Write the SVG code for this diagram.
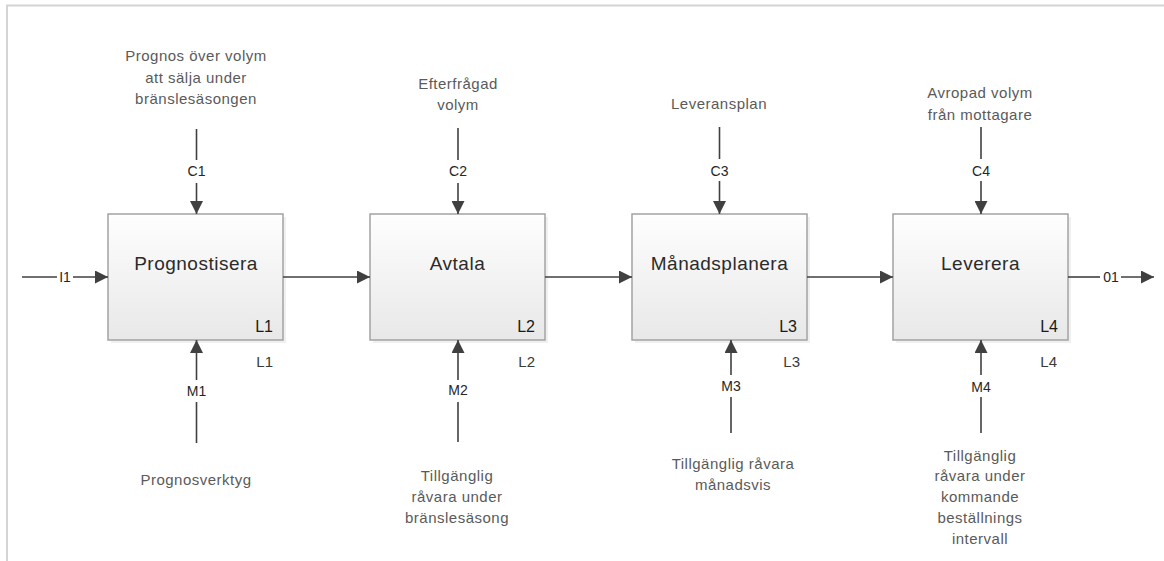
<svg xmlns="http://www.w3.org/2000/svg" width="1164" height="561" viewBox="0 0 1164 561">
  <defs>
    <linearGradient id="boxFill" x1="0" y1="0" x2="0" y2="1">
      <stop offset="0" stop-color="#fefefe"/>
      <stop offset="1" stop-color="#e8e8e8"/>
    </linearGradient>
    <marker id="arrow" markerUnits="userSpaceOnUse" markerWidth="14" markerHeight="13" refX="13" refY="6.5" orient="auto">
      <path d="M0,0 L13,6.5 L0,13 z" fill="#404040"/>
    </marker>
    <style>
      .frame { stroke: #d4d4d4; stroke-width: 2; fill: none; }
      .box { fill: url(#boxFill); stroke: #a3a3a3; stroke-width: 1.5; }
      .shadow { fill: #000; opacity: 0.06; }
      .title { font-family: "Liberation Sans", Arial, sans-serif; font-size: 19px; fill: #2b2b2b; text-anchor: middle; letter-spacing: 0.5px; }
      .code { font-family: "Liberation Sans", Arial, sans-serif; font-size: 16px; fill: #1a1a1a; text-anchor: end; }
      .code-out { font-family: "Liberation Sans", Arial, sans-serif; font-size: 15px; fill: #3a3a3a; text-anchor: end; }
      .line { stroke: #404040; stroke-width: 1.6; fill: none; }
      .lbl { font-family: "Liberation Sans", Arial, sans-serif; font-size: 14px; fill: #262626; text-anchor: middle; }
      .desc { font-family: "Liberation Sans", Arial, sans-serif; font-size: 15px; fill: #5a5a5a; text-anchor: middle; letter-spacing: 0.5px; }
    </style>
  </defs>

  <rect width="1164" height="561" fill="#ffffff"/>

  <!-- page frame -->
  <path class="frame" d="M7,561 L7,5.5 L1164,5.5"/>

  <!-- activity boxes -->
  <g id="node-prognostisera">
    <rect class="shadow" x="111" y="217" width="175" height="126"/>
    <rect class="box" x="108" y="214" width="175" height="126"/>
    <text class="title" x="196" y="270">Prognostisera</text>
    <text class="code" x="273" y="332">L1</text>
    <text class="code-out" x="273" y="367">L1</text>
  </g>

  <g id="node-avtala">
    <rect class="shadow" x="373" y="217" width="175" height="126"/>
    <rect class="box" x="370" y="214" width="175" height="126"/>
    <text class="title" x="457.5" y="270">Avtala</text>
    <text class="code" x="535" y="332">L2</text>
    <text class="code-out" x="535" y="367">L2</text>
  </g>

  <g id="node-manadsplanera">
    <rect class="shadow" x="635" y="217" width="175" height="126"/>
    <rect class="box" x="632" y="214" width="175" height="126"/>
    <text class="title" x="719.5" y="270">Månadsplanera</text>
    <text class="code" x="797" y="332">L3</text>
    <text class="code-out" x="800" y="367">L3</text>
  </g>

  <g id="node-leverera">
    <rect class="shadow" x="896" y="217" width="175" height="126"/>
    <rect class="box" x="893" y="214" width="175" height="126"/>
    <text class="title" x="980.5" y="270">Leverera</text>
    <text class="code" x="1058" y="332">L4</text>
    <text class="code-out" x="1057" y="367">L4</text>
  </g>

  <!-- connectors -->
  <g id="connectors">
    <!-- input / output -->
    <path class="line" d="M22,277 L57,277"/>
    <text class="lbl" x="65" y="282">I1</text>
    <path class="line" d="M73,277 L108,277" marker-end="url(#arrow)"/>

    <path class="line" d="M1068,277 L1100,277"/>
    <text class="lbl" x="1111" y="282">01</text>
    <path class="line" d="M1121,277 L1154,277" marker-end="url(#arrow)"/>

    <!-- flow between activities -->
    <path class="line" d="M283,277 L370,277" marker-end="url(#arrow)"/>
    <path class="line" d="M545,277 L632,277" marker-end="url(#arrow)"/>
    <path class="line" d="M807,277 L893,277" marker-end="url(#arrow)"/>

    <!-- controls -->
    <path class="line" d="M196.5,129 L196.5,160"/>
    <text class="lbl" x="196.5" y="176">C1</text>
    <path class="line" d="M196.5,183 L196.5,214" marker-end="url(#arrow)"/>

    <path class="line" d="M458,128 L458,160"/>
    <text class="lbl" x="458" y="176">C2</text>
    <path class="line" d="M458,183 L458,214" marker-end="url(#arrow)"/>

    <path class="line" d="M719.5,127 L719.5,159"/>
    <text class="lbl" x="719.5" y="176">C3</text>
    <path class="line" d="M719.5,181 L719.5,214" marker-end="url(#arrow)"/>

    <path class="line" d="M981,127 L981,159"/>
    <text class="lbl" x="981" y="176">C4</text>
    <path class="line" d="M981,181 L981,214" marker-end="url(#arrow)"/>

    <!-- mechanisms -->
    <path class="line" d="M196.5,380 L196.5,340" marker-end="url(#arrow)"/>
    <text class="lbl" x="196.5" y="396">M1</text>
    <path class="line" d="M196.5,402 L196.5,443"/>

    <path class="line" d="M458,380 L458,340" marker-end="url(#arrow)"/>
    <text class="lbl" x="458" y="395">M2</text>
    <path class="line" d="M458,402 L458,442"/>

    <path class="line" d="M731,375 L731,340" marker-end="url(#arrow)"/>
    <text class="lbl" x="731" y="391">M3</text>
    <path class="line" d="M731,397 L731,433"/>

    <path class="line" d="M981,375 L981,340" marker-end="url(#arrow)"/>
    <text class="lbl" x="981" y="392">M4</text>
    <path class="line" d="M981,397 L981,433"/>
  </g>

  <!-- control and mechanism descriptions -->
  <g id="desc-c1">
    <text class="desc" x="196" y="61">Prognos över volym</text>
    <text class="desc" x="196" y="83">att sälja under</text>
    <text class="desc" x="196" y="104">bränslesäsongen</text>
  </g>
  <g id="desc-c2">
    <text class="desc" x="458" y="89">Efterfrågad</text>
    <text class="desc" x="458" y="110">volym</text>
  </g>
  <g id="desc-c3">
    <text class="desc" x="719" y="109">Leveransplan</text>
  </g>
  <g id="desc-c4">
    <text class="desc" x="980" y="98">Avropad volym</text>
    <text class="desc" x="980" y="120">från mottagare</text>
  </g>
  <g id="desc-m1">
    <text class="desc" x="196" y="485">Prognosverktyg</text>
  </g>
  <g id="desc-m2">
    <text class="desc" x="457" y="481">Tillgänglig</text>
    <text class="desc" x="457" y="502">råvara under</text>
    <text class="desc" x="457" y="523">bränslesäsong</text>
  </g>
  <g id="desc-m3">
    <text class="desc" x="733" y="469">Tillgänglig råvara</text>
    <text class="desc" x="733" y="490">månadsvis</text>
  </g>
  <g id="desc-m4">
    <text class="desc" x="980" y="461">Tillgänglig</text>
    <text class="desc" x="980" y="481">råvara under</text>
    <text class="desc" x="980" y="502">kommande</text>
    <text class="desc" x="980" y="523">beställnings</text>
    <text class="desc" x="980" y="544">intervall</text>
  </g>
</svg>
